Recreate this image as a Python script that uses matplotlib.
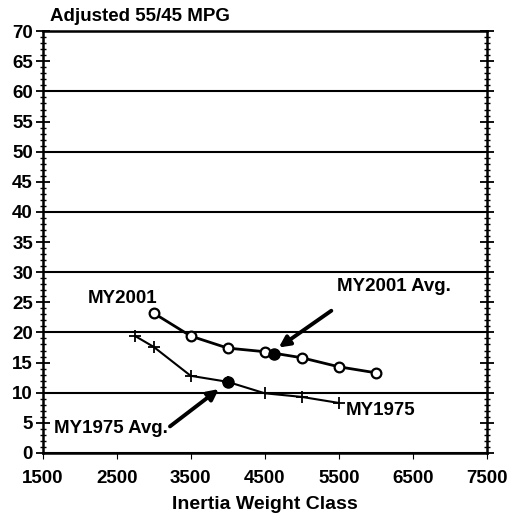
import matplotlib.pyplot as plt
from matplotlib.ticker import MultipleLocator

# Data
weight_2001 = [3000, 3500, 4000, 4500, 5000, 5500, 6000]
mpg_2001 = [23.2, 19.4, 17.4, 16.8, 15.8, 14.3, 13.3]
weight_1975 = [2750, 3000, 3500, 4000, 4500, 5000, 5500]
mpg_1975 = [19.4, 17.6, 12.8, 11.8, 9.9, 9.3, 8.3]
avg_2001 = (4620, 16.4)
avg_1975 = (4000, 11.8)

plt.rcParams['font.family'] = ['Liberation Sans', 'DejaVu Sans']
plt.rcParams['font.weight'] = 'bold'

fig = plt.figure(figsize=(5.14, 5.2), dpi=100)
ax = fig.add_axes([0.083, 0.129, 0.864, 0.811])

# MY2001 line with open circles
ax.plot(weight_2001, mpg_2001, color='black', lw=2, marker='o', ms=7,
        mfc='white', mec='black', mew=1.6, zorder=3)
ax.plot(*avg_2001, marker='o', ms=8, color='black', zorder=4)

# MY1975 line with + markers
ax.plot(weight_1975, mpg_1975, color='black', lw=1.5, marker='+', ms=9,
        mew=1.3, zorder=3)
ax.plot(*avg_1975, marker='o', ms=8, color='black', zorder=4)

ax.set_xlim(1500, 7500)
ax.set_ylim(0, 70)
ax.set_xticks(range(1500, 7501, 1000))
ax.yaxis.set_major_locator(MultipleLocator(5))
ax.yaxis.set_minor_locator(MultipleLocator(1))
ax.grid(axis='y', which='major', color='black', lw=1.5)
ax.set_axisbelow(True)
# only every 10 gets a gridline
for line, val in zip(ax.get_ygridlines(), ax.get_yticks()):
    if val % 10 != 0:
        line.set_visible(False)

ax.tick_params(axis='y', which='both', left=True, right=True, direction='inout')
ax.tick_params(axis='y', which='major', length=10, width=1.3, labelsize=13.5, pad=2)
ax.tick_params(axis='y', which='minor', length=4, width=1)
ax.tick_params(axis='x', which='major', length=4, labelsize=13.5, pad=8)
for s in ax.spines.values():
    s.set_linewidth(1.8)

ax.set_xlabel('Inertia Weight Class', fontsize=14, fontweight='bold', labelpad=7)
fig.text(0.098, 0.968, 'Adjusted 55/45 MPG', fontsize=13.5, fontweight='bold',
         ha='left', va='center')

ax.text(2580, 25.7, 'MY2001', fontsize=13.5, fontweight='bold', ha='center', va='center')
ax.text(5600, 7.1, 'MY1975', fontsize=13.5, fontweight='bold', ha='left', va='center')

ax.text(5477, 27.7, 'MY2001 Avg.', fontsize=13.5, fontweight='bold', ha='left', va='center')
ax.annotate('', xy=(4690, 17.5), xytext=(5400, 23.6),
            arrowprops=dict(arrowstyle='-|>', color='black', lw=2.8,
                            mutation_scale=16, shrinkA=0, shrinkB=0))
ax.text(1650, 4.1, 'MY1975 Avg.', fontsize=13.5, fontweight='bold', ha='left', va='center')
ax.annotate('', xy=(3880, 10.6), xytext=(3220, 4.4),
            arrowprops=dict(arrowstyle='-|>', color='black', lw=2.8,
                            mutation_scale=16, shrinkA=0, shrinkB=0))

fig.savefig('out.png', dpi=100)
